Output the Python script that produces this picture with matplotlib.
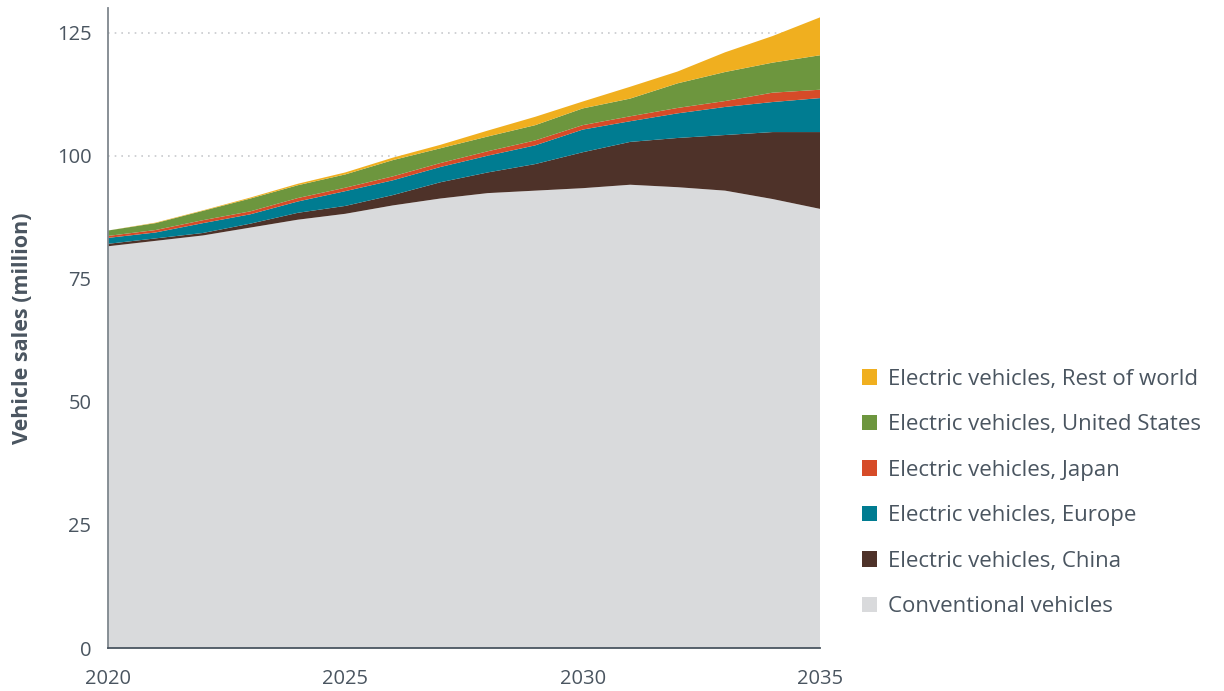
import matplotlib
matplotlib.use("Agg")
import matplotlib.pyplot as plt
from matplotlib.patches import Patch

years = list(range(2020, 2036))
conventional = [81.6, 82.7, 83.8, 85.4, 87.0, 88.2, 89.9, 91.3, 92.4, 92.9, 93.4, 94.1, 93.6, 92.9, 91.2, 89.2]
ev_china = [0.5, 0.5, 0.5, 0.8, 1.4, 1.6, 2.1, 3.3, 4.2, 5.4, 7.3, 8.7, 10.0, 11.3, 13.6, 15.6]
ev_europe = [1.2, 1.2, 2.0, 1.9, 2.3, 3.0, 3.0, 3.1, 3.4, 3.8, 4.6, 4.2, 5.0, 5.7, 6.1, 6.9]
ev_japan = [0.4, 0.5, 0.6, 0.6, 0.7, 0.7, 0.8, 0.8, 0.9, 1.0, 0.9, 1.0, 1.1, 1.2, 1.9, 1.7]
ev_us = [1.1, 1.4, 1.9, 2.6, 2.6, 2.7, 3.3, 3.0, 3.0, 3.1, 3.4, 3.6, 5.0, 5.9, 6.1, 7.0]
ev_row = [0.0, 0.1, 0.1, 0.2, 0.3, 0.4, 0.5, 0.7, 1.2, 1.7, 1.4, 2.4, 2.4, 4.0, 5.4, 7.7]

labels = ["Conventional vehicles", "Electric vehicles, China", "Electric vehicles, Europe",
          "Electric vehicles, Japan", "Electric vehicles, United States", "Electric vehicles, Rest of world"]
colors = ["#D9DADC", "#4E3229", "#007C91", "#D64B28", "#6D963E", "#F0AF1F"]

y_ticks = [0, 25, 50, 75, 100, 125]
x_ticks = [2020, 2025, 2030, 2035]

text_color = "#4A5560"
plt.rcParams["font.family"] = ["Open Sans", "DejaVu Sans"]

fig = plt.figure(figsize=(12.24, 6.91), dpi=100)
ax = fig.add_axes([108/1224, 43/691, 712/1224, 640/691])

polys = ax.stackplot(years, conventional, ev_china, ev_europe, ev_japan, ev_us, ev_row,
                     colors=colors, labels=labels, linewidth=0, zorder=2)

ax.set_xlim(2020, 2035)
ax.set_ylim(0, 130)
ax.set_yticks(y_ticks)
ax.set_xticks(x_ticks)
ax.yaxis.grid(True, linestyle=(0, (1, 3)), color="#C8CACD", linewidth=1.2, zorder=0)
ax.set_axisbelow(True)
ax.tick_params(axis="both", length=0, labelsize=14.5, labelcolor=text_color)
ax.tick_params(axis="y", pad=12)
ax.tick_params(axis="x", pad=15)

for s in ["top", "right"]:
    ax.spines[s].set_visible(False)
ax.spines["left"].set_color("#7F878E")
ax.spines["left"].set_linewidth(1.3)
ax.spines["bottom"].set_color("#4A5560")
ax.spines["bottom"].set_linewidth(1.3)
ax.spines["left"].set_zorder(3)
ax.spines["bottom"].set_zorder(3)

ax.set_ylabel("Vehicle sales (million)", fontsize=15.5, fontweight="bold", color=text_color, labelpad=17)

handles = [Patch(facecolor=c, edgecolor="none") for c in colors][::-1]
leg = fig.legend(handles, labels[::-1], loc="upper left", bbox_to_anchor=(853/1224, 1 - 360/691),
                 frameon=False, fontsize=16, labelspacing=1.1, handlelength=0.7, handleheight=0.7,
                 handletextpad=0.48, borderaxespad=0)
for t in leg.get_texts():
    t.set_color(text_color)

fig.savefig("out.png", dpi=100)
